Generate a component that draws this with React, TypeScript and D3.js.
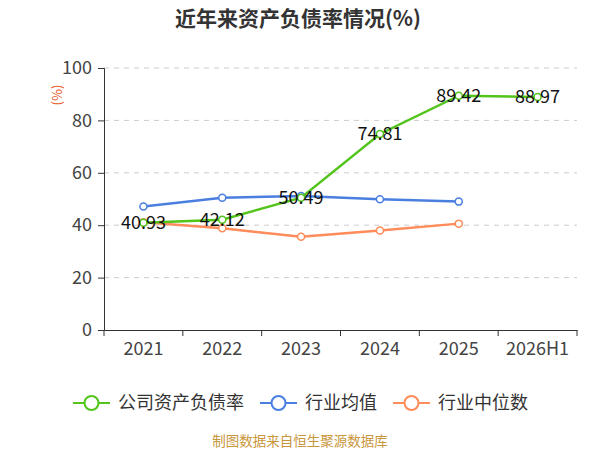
import React, { useEffect, useRef } from 'react';
import * as d3 from 'd3';

const years = ['2021', '2022', '2023', '2024', '2025', '2026H1'];
const companyRatio = [40.93, 42.12, 50.49, 74.81, 89.42, 88.97];
const industryMean = [47.1, 50.5, 51.1, 49.9, 49.0];
const industryMedian = [41.1, 38.8, 35.6, 38.0, 40.6];
const yTicks = [0, 20, 40, 60, 80, 100];
const seriesNames = ['公司资产负债率', '行业均值', '行业中位数'];
const seriesColors = ['#52c41a', '#4a7fe0', '#ff8c5a'];

const FONT = '"Noto Sans CJK SC", "Noto Sans", sans-serif';

const App: React.FC = () => {
    const ref = useRef<SVGSVGElement | null>(null);

    useEffect(() => {
        if (!ref.current) return;
        const width = 600;
        const height = 450;
        const margin = { top: 68, right: 23, bottom: 120, left: 104 };

        const svg = d3.select(ref.current);
        svg.selectAll('*').remove();
        svg.attr('width', width).attr('height', height);

        // title
        svg.append('text')
            .attr('x', 298).attr('y', 26)
            .attr('text-anchor', 'middle')
            .style('font-family', FONT)
            .style('font-size', '21px')
            .style('font-weight', 'bold')
            .style('fill', '#333')
            .text('近年来资产负债率情况(%)');

        const x = d3.scaleBand()
            .domain(years)
            .range([margin.left, width - margin.right]);

        const y = d3.scaleLinear()
            .domain([0, 100])
            .range([height - margin.bottom, margin.top]);

        const cx = (i: number) => x(years[i])! + x.bandwidth() / 2;

        // grid
        svg.append('g')
            .selectAll('line')
            .data(yTicks.filter(t => t > 0))
            .enter()
            .append('line')
            .attr('x1', margin.left)
            .attr('x2', width - margin.right)
            .attr('y1', d => y(d))
            .attr('y2', d => y(d))
            .attr('stroke', '#cccccc')
            .attr('stroke-dasharray', '5,5');

        // y axis
        const yAxis = svg.append('g')
            .attr('transform', `translate(${margin.left},0)`)
            .call(d3.axisLeft(y).tickValues(yTicks).tickSize(6).tickPadding(6));
        yAxis.select('.domain').attr('stroke', '#333');
        yAxis.selectAll('.tick line').attr('stroke', '#333');
        yAxis.selectAll('text')
            .style('font-family', FONT)
            .style('font-size', '18px')
            .style('fill', '#444');

        // x axis
        const xAxis = svg.append('g')
            .attr('transform', `translate(0,${y(0)})`)
            .call(d3.axisBottom(x).tickSize(0).tickPadding(12));
        xAxis.select('.domain').attr('stroke', '#333');
        xAxis.selectAll('text')
            .style('font-family', FONT)
            .style('font-size', '18px')
            .style('fill', '#444');
        // boundary ticks
        svg.append('g')
            .selectAll('line')
            .data(years.concat(['end']))
            .enter()
            .append('line')
            .attr('x1', (d, i) => margin.left + i * x.bandwidth())
            .attr('x2', (d, i) => margin.left + i * x.bandwidth())
            .attr('y1', y(0))
            .attr('y2', y(0) + 6)
            .attr('stroke', '#333');

        // unit
        svg.append('text')
            .attr('transform', `translate(58,95) rotate(-90)`)
            .attr('text-anchor', 'middle')
            .attr('dominant-baseline', 'middle')
            .style('font-family', FONT)
            .style('font-size', '13px')
            .style('fill', '#e8541e')
            .text('(%)');

        const line = d3.line<number>()
            .x((d, i) => cx(i))
            .y(d => y(d));

        const series = [companyRatio, industryMean, industryMedian];
        const order = [2, 1, 0];
        order.forEach(k => {
            const vals = series[k];
            svg.append('path')
                .datum(vals)
                .attr('fill', 'none')
                .attr('stroke', seriesColors[k])
                .attr('stroke-width', 2.5)
                .attr('d', line);
            svg.append('g')
                .selectAll('circle')
                .data(vals)
                .enter()
                .append('circle')
                .attr('cx', (d, i) => cx(i))
                .attr('cy', d => y(d))
                .attr('r', 3.5)
                .attr('fill', '#fff')
                .attr('stroke', seriesColors[k])
                .attr('stroke-width', 1.5);
        });

        // data labels
        svg.append('g')
            .selectAll('text')
            .data(companyRatio)
            .enter()
            .append('text')
            .attr('x', (d, i) => cx(i))
            .attr('y', d => y(d) + 6)
            .attr('text-anchor', 'middle')
            .style('font-family', FONT)
            .style('font-size', '18px')
            .style('fill', '#111')
            .text(d => d.toFixed(2));

        // legend
        const legendX = [73, 260, 393];
        const legend = svg.append('g');
        seriesNames.forEach((name, k) => {
            const g = legend.append('g').attr('transform', `translate(${legendX[k]},403)`);
            g.append('line')
                .attr('x1', 0).attr('x2', 37)
                .attr('y1', 0).attr('y2', 0)
                .attr('stroke', seriesColors[k])
                .attr('stroke-width', 2);
            g.append('circle')
                .attr('cx', 18.5).attr('cy', 0).attr('r', 7)
                .attr('fill', '#fff')
                .attr('stroke', seriesColors[k])
                .attr('stroke-width', 2);
            g.append('text')
                .attr('x', 45).attr('y', 6)
                .style('font-family', FONT)
                .style('font-size', '18px')
                .style('fill', '#333')
                .text(name);
        });

        // source
        svg.append('text')
            .attr('x', 300).attr('y', 446)
            .attr('text-anchor', 'middle')
            .style('font-family', FONT)
            .style('font-size', '13.5px')
            .style('fill', '#c8963c')
            .text('制图数据来自恒生聚源数据库');
    }, []);

    return <svg ref={ref} style={{ position: 'absolute', left: 0, top: 0 }} />;
};

export default App;
